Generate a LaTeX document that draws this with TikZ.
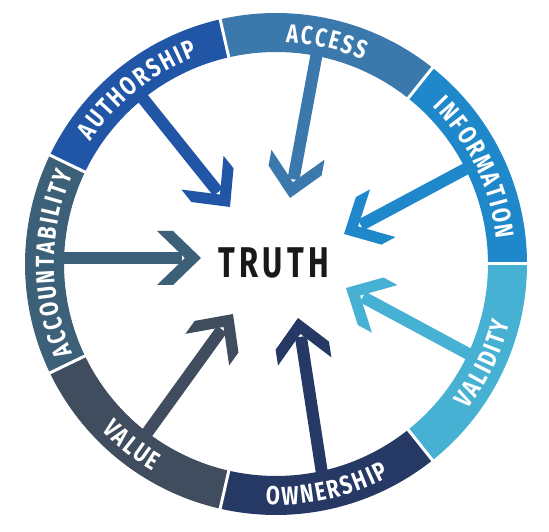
\documentclass[tikz,border=0pt]{standalone}
\usepackage{fontspec}
\usetikzlibrary{decorations.text}

\newfontfamily\labfont[FakeStretch=0.78,WordSpace=0.45]{Fira Sans}
\newfontfamily\truthfont[FakeStretch=0.72,LetterSpace=10]{Fira Sans}

\definecolor{accessC}{HTML}{3B78AC}
\definecolor{authorC}{HTML}{2156A7}
\definecolor{accountC}{HTML}{3C6078}
\definecolor{valueC}{HTML}{3F4D5F}
\definecolor{ownerC}{HTML}{263864}
\definecolor{validC}{HTML}{46B1D2}
\definecolor{infoC}{HTML}{1E88CA}

% open chevron head, tip at the end point
\pgfdeclarearrow{
  name = Chevron,
  setup code = {
    \pgfarrowssettipend{0pt}
    \pgfarrowssetlineend{-19pt}
    \pgfarrowssetbackend{-45pt}
    \pgfarrowsupperhullpoint{-45pt}{27pt}
    \pgfarrowsupperhullpoint{0pt}{0pt}
  },
  drawing code = {
    \pgfpathmoveto{\pgfqpoint{0pt}{0pt}}
    \pgfpathlineto{\pgfqpoint{-28pt}{27pt}}
    \pgfpathlineto{\pgfqpoint{-44pt}{27pt}}
    \pgfpathlineto{\pgfqpoint{-16pt}{0pt}}
    \pgfpathlineto{\pgfqpoint{-44pt}{-27pt}}
    \pgfpathlineto{\pgfqpoint{-28pt}{-27pt}}
    \pgfpathclose
    \pgfusepathqfill
  }
}

\begin{document}
\begin{tikzpicture}[
  x=1pt, y=1pt,
  >=Chevron,
  shaft/.style={->, line width=12pt},
  gap/.style={draw=white, line width=3pt},
  lab/.style={decorate, decoration={text along path, text align=center, text color=white,
    text={|\labfont\bfseries\fontsize{26}{26}\selectfont|#1}}}
]
\useasboundingbox (-276,-268) rectangle (273,264);

% arrows, drawn first so the ring covers their outer ends
\coordinate (access-out) at (41.6,215);
\coordinate (access-tip) at (14,66);
\coordinate (author-out) at (-139,173);
\coordinate (author-tip) at (-46,57);
\coordinate (account-out) at (-222,6);
\coordinate (account-tip) at (-75,6);
\coordinate (value-out) at (-134,-176);
\coordinate (value-tip) at (-43,-50);
\coordinate (owner-out) at (47,-216);
\coordinate (owner-tip) at (22,-54);
\coordinate (valid-out) at (200,-94);
\coordinate (valid-tip) at (70,-24);
\coordinate (info-out) at (197,99);
\coordinate (info-tip) at (68,30);

\draw[shaft, accessC] (access-out) -- (access-tip);
\draw[shaft, authorC] (author-out) -- (author-tip);
\draw[shaft, accountC] (account-out) -- (account-tip);
\draw[shaft, valueC] (value-out) -- (value-tip);
\draw[shaft, ownerC] (owner-out) -- (owner-tip);
\draw[shaft, validC] (valid-out) -- (valid-tip);
\draw[shaft, infoC] (info-out) -- (info-tip);

% ring segments
\fill[infoC] (0:212pt) arc[start angle=0, end angle=51.43, radius=212pt] -- (51.43:251pt) arc[start angle=51.43, end angle=0, radius=251pt] -- cycle;
\fill[accessC] (51.43:212pt) arc[start angle=51.43, end angle=102.86, radius=212pt] -- (102.86:251pt) arc[start angle=102.86, end angle=51.43, radius=251pt] -- cycle;
\fill[authorC] (102.86:212pt) arc[start angle=102.86, end angle=154.29, radius=212pt] -- (154.29:251pt) arc[start angle=154.29, end angle=102.86, radius=251pt] -- cycle;
\fill[accountC] (154.29:212pt) arc[start angle=154.29, end angle=205.71, radius=212pt] -- (205.71:251pt) arc[start angle=205.71, end angle=154.29, radius=251pt] -- cycle;
\fill[valueC] (205.71:212pt) arc[start angle=205.71, end angle=257.14, radius=212pt] -- (257.14:251pt) arc[start angle=257.14, end angle=205.71, radius=251pt] -- cycle;
\fill[ownerC] (257.14:212pt) arc[start angle=257.14, end angle=308.57, radius=212pt] -- (308.57:251pt) arc[start angle=308.57, end angle=257.14, radius=251pt] -- cycle;
\fill[validC] (308.57:212pt) arc[start angle=308.57, end angle=360, radius=212pt] -- (360:251pt) arc[start angle=360, end angle=308.57, radius=251pt] -- cycle;

\draw[gap] (0:209pt) -- (0:254pt);
\draw[gap] (51.43:209pt) -- (51.43:254pt);
\draw[gap] (102.86:209pt) -- (102.86:254pt);
\draw[gap] (154.29:209pt) -- (154.29:254pt);
\draw[gap] (205.71:209pt) -- (205.71:254pt);
\draw[gap] (257.14:209pt) -- (257.14:254pt);
\draw[gap] (308.57:209pt) -- (308.57:254pt);

% labels: upper half clockwise, lower half counter-clockwise
\path[lab={I N F O R M A T I O N}]
  (51.43:222pt) arc[start angle=51.43, end angle=0, radius=222pt];
\path[lab={A C C E S S}]
  (102.86:222pt) arc[start angle=102.86, end angle=51.43, radius=222pt];
\path[lab={A U T H O R S H I P}]
  (154.29:222pt) arc[start angle=154.29, end angle=102.86, radius=222pt];
\path[lab={A C C O U N T A B I L I T Y}]
  (205.71:222pt) arc[start angle=205.71, end angle=154.29, radius=222pt];
\path[lab={V A L U E}]
  (205.71:241pt) arc[start angle=205.71, end angle=257.14, radius=241pt];
\path[lab={O W N E R S H I P}]
  (257.14:241pt) arc[start angle=257.14, end angle=308.57, radius=241pt];
\path[lab={V A L I D I T Y}]
  (308.57:241pt) arc[start angle=308.57, end angle=360, radius=241pt];

\node[font=\truthfont\bfseries\fontsize{43}{43}\selectfont, text=black!90] (truth) at (-2,1) {TRUTH};
\end{tikzpicture}
\end{document}
